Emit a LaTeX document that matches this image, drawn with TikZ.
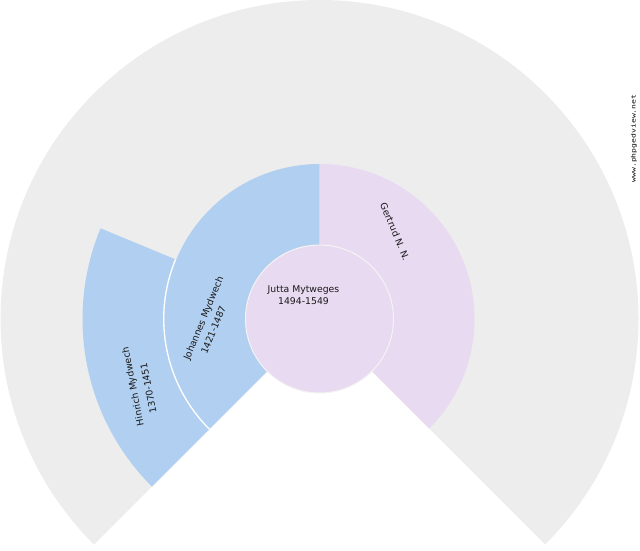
\documentclass[tikz,border=0pt]{standalone}
\usepackage{fontspec}
\newfontfamily\fanfont{DejaVu Sans}
\newfontfamily\wmfont{DejaVu Sans Mono}
\definecolor{fangrey}{HTML}{EDEDED}
\definecolor{fanblue}{HTML}{B1CFF0}
\definecolor{fanlav}{HTML}{E8DAF1}
\definecolor{fanline}{HTML}{F4F4F4}
\tikzset{
  personlabel/.style={font=\fanfont\fontsize{9.3}{13}\selectfont, inner sep=0pt, align=center, text=black!90},
  cellline/.style={draw=white, line width=1.3pt},
}
\begin{document}
\begin{tikzpicture}[x=1pt,y=1pt]
\useasboundingbox (0,0) rectangle (640,550);
\begin{scope}[shift={(319.5,231)}]
  % background fan
  \fill[fangrey] (0,0) -- (-45:319) arc[start angle=-45,end angle=225,radius=319] -- cycle;
  % generation 1
  \fill[fanblue] (90:74) arc[start angle=90,end angle=225,radius=74] -- (225:155) arc[start angle=225,end angle=90,radius=155] -- cycle;
  \fill[fanlav] (-45:74) arc[start angle=-45,end angle=90,radius=74] -- (90:155) arc[start angle=90,end angle=-45,radius=155] -- cycle;
  % generation 2
  \fill[fanblue] (157.5:155) arc[start angle=157.5,end angle=225,radius=155] -- (225:237) arc[start angle=225,end angle=157.5,radius=237] -- cycle;
  \draw[cellline] (157.5:155.8) arc[start angle=157.5,end angle=225,radius=155.8];
  % centre
  \filldraw[fill=fanlav, draw=fanline, line width=1pt] (0,0) circle (74);
\end{scope}
\node[personlabel, font=\fanfont\fontsize{9.3}{12.7}\selectfont] (jutta) at (303.5,254.7) {Jutta Mytweges\\1494-1549};
\node[personlabel, font=\fanfont\fontsize{9.3}{13.7}\selectfont, rotate=67.5] (johannes) at (209.6,229.1) {Johannes Mydwech\\\hspace*{-14pt}1421-1487};
\node[personlabel, rotate=-67.5] (gertrud) at (395,318.3) {Gertrud N. N.};
\node[personlabel, font=\fanfont\fontsize{9.3}{15}\selectfont, rotate=101.25] (hinrich) at (140,164.8) {Hinrich Mydwech\\\hspace*{-9.3pt}1370-1451};
\node[inner sep=0pt, rotate=90, font=\wmfont\fontsize{6}{6}\selectfont] (wm) at (634,411.5) {\scalebox{1.35}[1]{www.phpgedview.net}};
\end{tikzpicture}
\end{document}
